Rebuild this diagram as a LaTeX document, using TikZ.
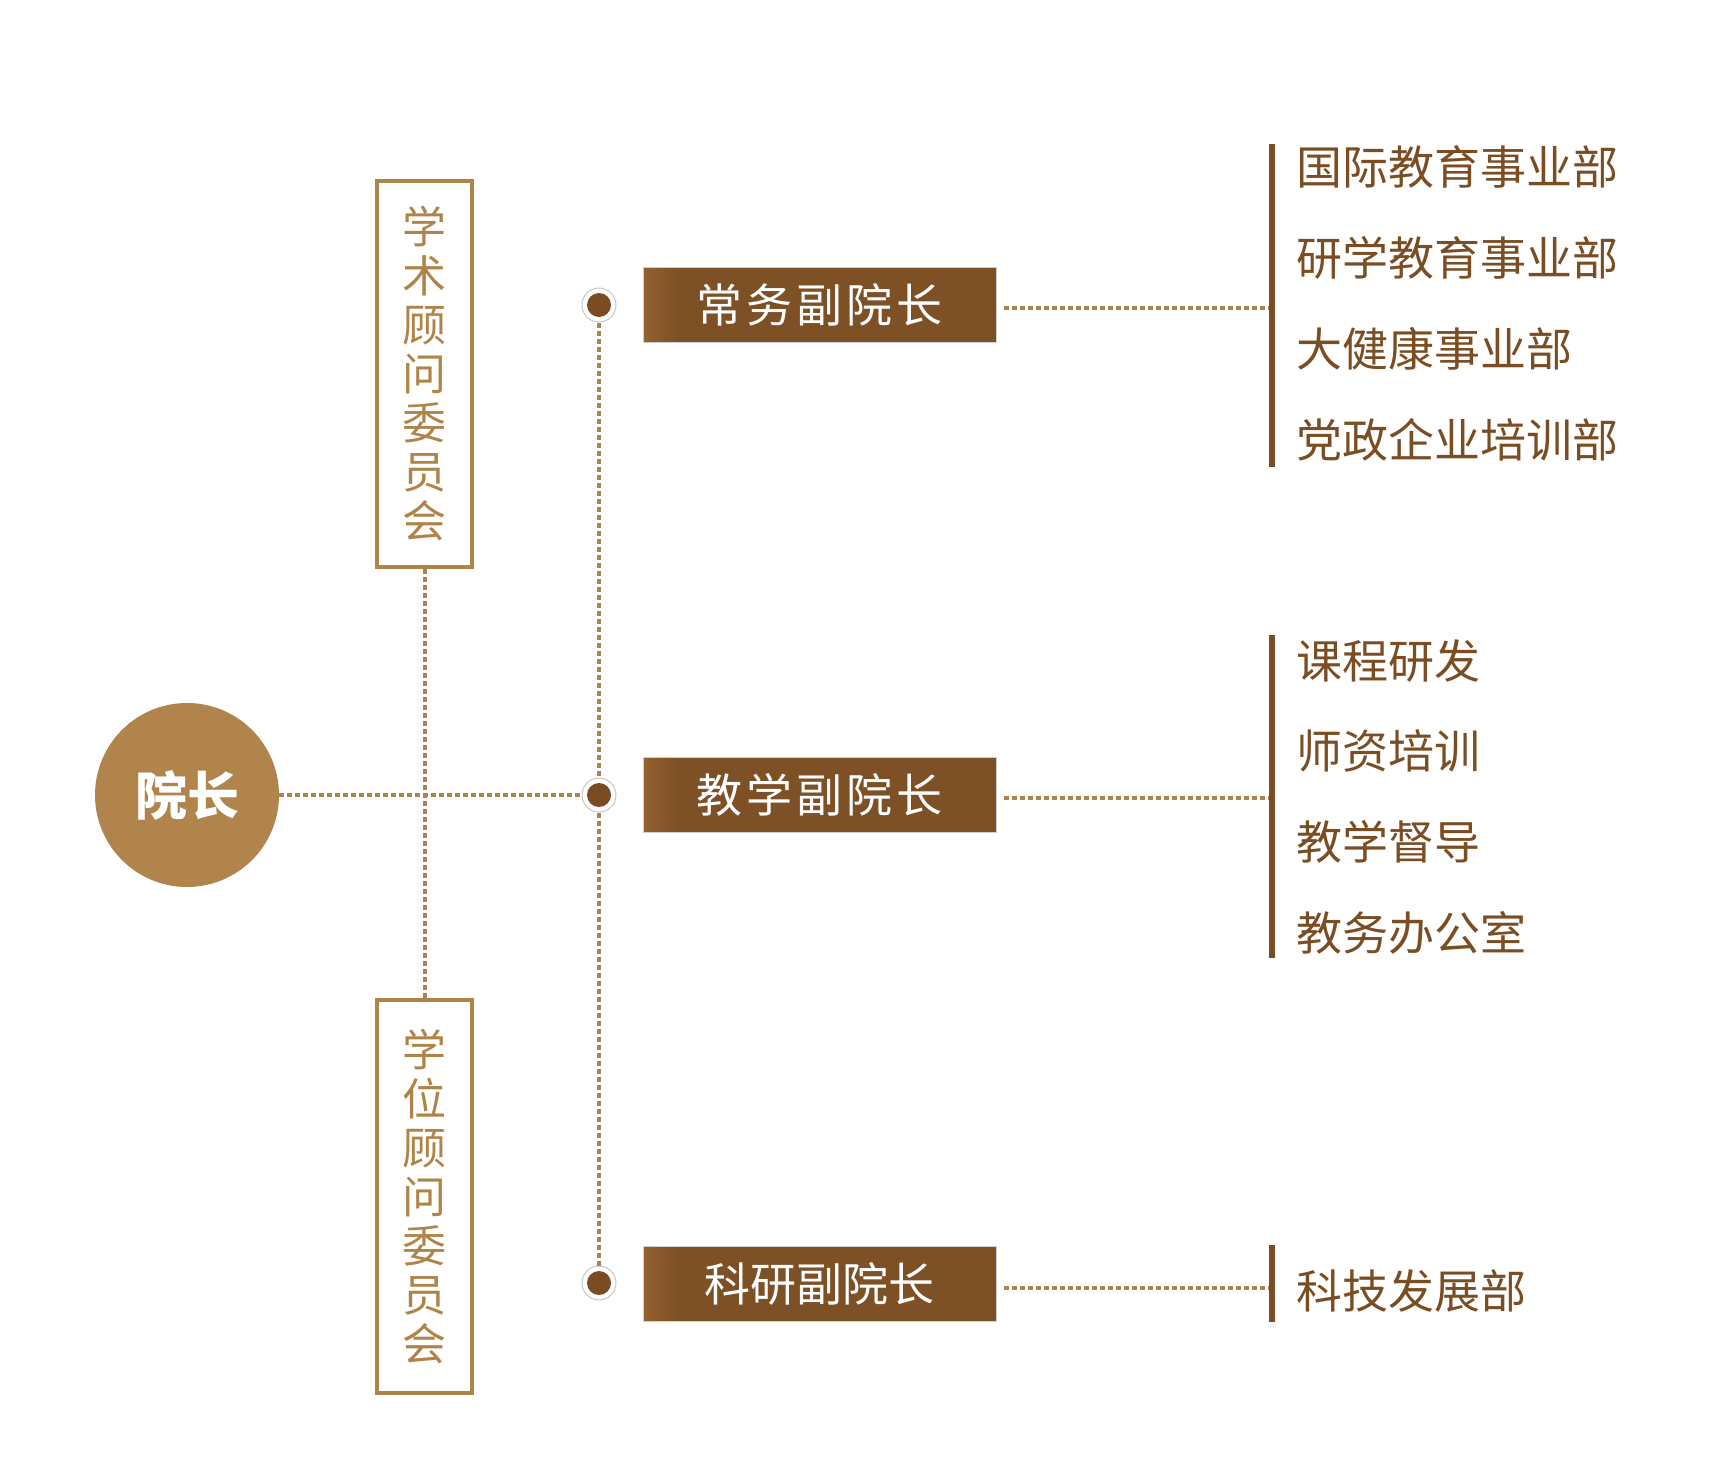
\documentclass[tikz,border=0pt]{standalone}
\usepackage{fontspec}
\setmainfont{Noto Sans CJK SC}
\usepackage{xcolor}
\usepackage{tikz}
\usetikzlibrary{positioning}

\definecolor{deanclr}{HTML}{B0844A}
\definecolor{boxclr}{HTML}{B08449}
\definecolor{lineclr}{HTML}{AD8353}
\definecolor{viceclr}{HTML}{7E5026}
\definecolor{viceli}{HTML}{93602F}
\definecolor{jointclr}{HTML}{7B4B22}
\definecolor{deptclr}{HTML}{7B4D23}

\begin{document}
\begin{tikzpicture}[x=1pt,y=-1pt]
    % Block styles
    \tikzstyle{dean} = [circle, fill=deanclr, minimum size=184pt, inner sep=0pt, text=white, font=\fontsize{52}{52}\selectfont\bfseries]
    \tikzstyle{council} = [rectangle, draw=boxclr, line width=3.4pt, minimum width=95pt, inner sep=0pt, text=boxclr, align=center, font=\fontsize{44}{49}\selectfont]
    \tikzstyle{vice} = [rectangle, fill=viceclr, draw=black!18, line width=0.8pt, minimum width=353pt, minimum height=75pt, inner sep=0pt, text=white, font=\fontsize{46}{46}\selectfont,
        path picture={\foreach \k in {0,...,17}
            \fill[viceclr!\the\numexpr 6*\k\relax!viceli] ([xshift=2*\k pt]path picture bounding box.south west) rectangle ([xshift=2*\k pt+2.2pt]path picture bounding box.north west);}]
    \tikzstyle{spaced} = [font=\fontsize{46}{46}\selectfont\addfontfeatures{LetterSpace=9}]
    \tikzstyle{joint} = [circle, fill=white, draw=black!22, line width=1pt, minimum size=34pt, inner sep=0pt,
        path picture={\fill[jointclr] (path picture bounding box.center) circle (12pt);}]
    \tikzstyle{dept} = [anchor=west, inner sep=0pt, text=deptclr, text height=40pt, text depth=6pt, font=\fontsize{46}{46}\selectfont]
    \tikzstyle{under} = [below=44.5pt of #1.south west, anchor=north west]
    \tikzstyle{link} = [draw=lineclr, line width=4pt, dash pattern=on 5pt off 3pt]
    \tikzstyle{bar} = [draw=deptclr, line width=6pt]

    \useasboundingbox (0,0) rectangle (1735,1477);

    % Dean and councils
    \node[dean] (dean) at (187,795) {院长};
    \node[council, minimum height=386pt] (academic) at (424.5,374) {学\\术\\顾\\问\\委\\员\\会};
    \node[council, minimum height=393pt] (degree) at (424.5,1196.5) {学\\位\\顾\\问\\委\\员\\会};

    % Vice deans
    \node[joint] (j_exec) at (599,305) {};
    \node[joint] (j_teach) at (599,795) {};
    \node[joint] (j_research) at (599,1283) {};
    \node[vice, spaced] (exec) at (819.5,304.5) {常务副院长};
    \node[vice, spaced] (teach) at (819.5,794.5) {教学副院长};
    \node[vice] (research) at (819.5,1283.5) {科研副院长};

    % Departments
    \node[dept] (intl) at (1296,168) {国际教育事业部};
    \node[dept, under=intl] (study) {研学教育事业部};
    \node[dept, under=study] (health) {大健康事业部};
    \node[dept, under=health] (party) {党政企业培训部};
    \node[dept] (course) at (1296,661) {课程研发};
    \node[dept, under=course] (trainer) {师资培训};
    \node[dept, under=trainer] (supervise) {教学督导};
    \node[dept, under=supervise] (office) {教务办公室};
    \node[dept] (tech) at (1296,1291) {科技发展部};

    \coordinate (bar_exec_top) at (1272,144);
    \coordinate (bar_exec_bot) at (1272,467);
    \coordinate (bar_teach_top) at (1272,635);
    \coordinate (bar_teach_bot) at (1272,958);
    \coordinate (bar_research_top) at (1272,1245);
    \coordinate (bar_research_bot) at (1272,1322);

    % Connections
    \draw[link] (dean) -- (j_teach);
    \draw[link] (academic) -- (degree);
    \draw[link] (j_exec) -- (j_teach);
    \draw[link] (j_teach) -- (j_research);

    \draw[link] ([xshift=8pt,yshift=-3pt]exec.east) -- ([yshift=-3pt]exec.east -| bar_exec_top);
    \draw[link] ([xshift=8pt,yshift=-3pt]teach.east) -- ([yshift=-3pt]teach.east -| bar_teach_top);
    \draw[link] ([xshift=8pt,yshift=-4pt]research.east) -- ([yshift=-4pt]research.east -| bar_research_top);

    \draw[bar] (bar_exec_top) -- (bar_exec_bot);
    \draw[bar] (bar_teach_top) -- (bar_teach_bot);
    \draw[bar] (bar_research_top) -- (bar_research_bot);
\end{tikzpicture}
\end{document}
